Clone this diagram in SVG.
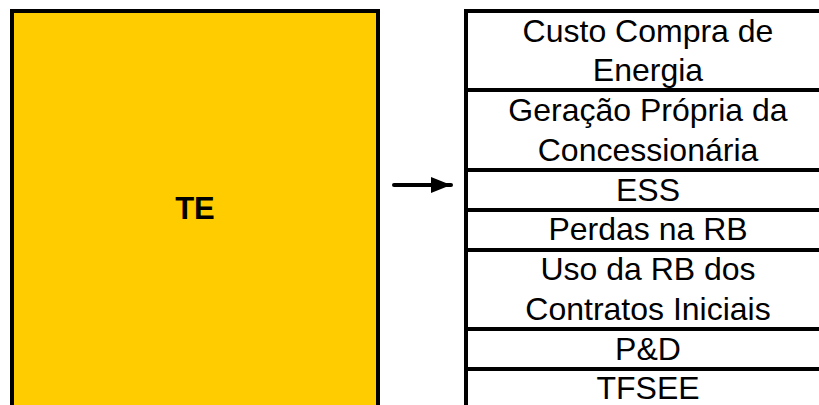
<svg xmlns="http://www.w3.org/2000/svg" width="819" height="405" viewBox="0 0 819 405">
  <style>
    .box { stroke: #000; stroke-width: 4; }
    .cell { fill: #fff; stroke: #000; stroke-width: 4; }
    .lbl { font-family: "Liberation Sans", Arial, sans-serif; font-size: 32px; fill: #000; text-anchor: middle; }
    .title { font-family: "Liberation Sans", Arial, sans-serif; font-size: 31px; font-weight: bold; fill: #000; text-anchor: middle; }
    .conn { stroke: #000; stroke-width: 4; stroke-linecap: round; fill: none; }
  </style>
  <defs>
    <marker id="arrowhead" markerUnits="userSpaceOnUse" markerWidth="22" markerHeight="18" refX="20" refY="8" orient="auto">
      <path d="M0,0 L20,8 L0,16 Z" fill="#000"/>
    </marker>
  </defs>

  <!-- TE block -->
  <g id="te">
    <rect class="box" x="12" y="11" width="366" height="420" fill="#FFCC00"/>
    <text class="title" x="195" y="219">TE</text>
  </g>

  <!-- connector -->
  <g id="connectors">
    <line class="conn" x1="394" y1="185" x2="451" y2="185" marker-end="url(#arrowhead)"/>
  </g>

  <!-- component table -->
  <g id="custo-compra">
    <rect class="cell" x="466" y="11" width="380" height="79"/>
    <text class="lbl" x="648" y="42">Custo Compra de</text>
    <text class="lbl" x="648" y="81">Energia</text>
  </g>
  <g id="geracao-propria">
    <rect class="cell" x="466" y="90" width="380" height="80"/>
    <text class="lbl" x="648" y="121">Geração Própria da</text>
    <text class="lbl" x="648" y="161">Concessionária</text>
  </g>
  <g id="ess">
    <rect class="cell" x="466" y="170" width="380" height="40"/>
    <text class="lbl" x="648" y="201">ESS</text>
  </g>
  <g id="perdas-rb">
    <rect class="cell" x="466" y="210" width="380" height="40"/>
    <text class="lbl" x="648" y="240">Perdas na RB</text>
  </g>
  <g id="uso-rb">
    <rect class="cell" x="466" y="250" width="380" height="79"/>
    <text class="lbl" x="648" y="280">Uso da RB dos</text>
    <text class="lbl" x="648" y="320">Contratos Iniciais</text>
  </g>
  <g id="ped">
    <rect class="cell" x="466" y="329" width="380" height="40"/>
    <text class="lbl" x="648" y="360">P&amp;D</text>
  </g>
  <g id="tfsee">
    <rect class="cell" x="466" y="369" width="380" height="40"/>
    <text class="lbl" x="648" y="399">TFSEE</text>
  </g>
</svg>
